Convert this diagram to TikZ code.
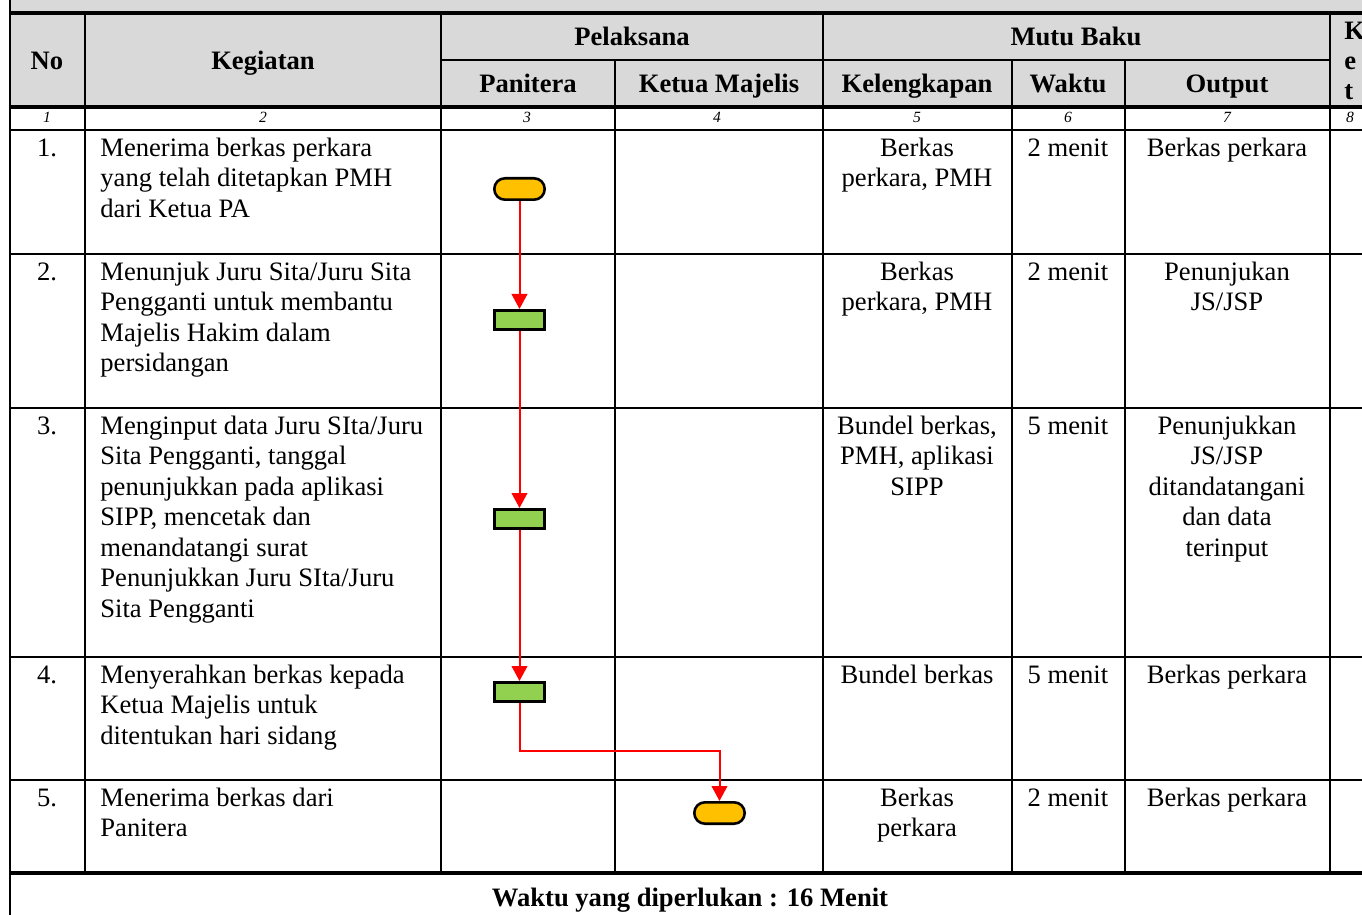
\documentclass[tikz,border=0pt]{standalone}
\usepackage{fontspec}
\setmainfont{Liberation Serif}
\usetikzlibrary{arrows.meta}

\definecolor{hdrgray}{HTML}{D9D9D9}
\definecolor{termyellow}{HTML}{FFC000}
\definecolor{procgreen}{HTML}{92D050}
\newcommand\bodyfont{\fontsize{13.3}{15.25}\selectfont}
\newcommand\numfont{\fontsize{7.8}{9}\selectfont\itshape}

\begin{document}
\begin{tikzpicture}[x=0.5pt,y=-0.5pt,
   rule/.style={draw=black,line width=1.1pt},
   thickrule/.style={draw=black,line width=1.6pt},
   txt/.style={font=\bodyfont,inner sep=0pt},
   hdr/.style={font=\bodyfont\bfseries,inner sep=0pt,anchor=base},
   colnum/.style={font=\numfont,inner sep=0pt,anchor=base},
   keg/.style={txt,anchor=north west,align=left},
   mid/.style={txt,anchor=north,align=center},
   term/.style={rectangle,rounded corners=5.3pt,draw=black,line width=1.3pt,
      fill=termyellow,minimum width=25.2pt,minimum height=10.7pt,inner sep=0pt},
   proc/.style={rectangle,draw=black,line width=1.3pt,fill=procgreen,
      minimum width=25.2pt,minimum height=9.7pt,inner sep=0pt},
   flow/.style={draw=red,line width=1pt,-{Triangle[width=7.8pt,length=7.5pt]}}]
   \useasboundingbox (0,0) rectangle (1362,915);
   \clip (0,0) rectangle (1362,915);
   % header background
   \fill[hdrgray] (10,0) rectangle (1362,107);
   % horizontal rules; format: {y/from/to/style}
   \foreach \yy/\xa/\xb/\sty in {13/10/1362/thickrule,60/441/1330/rule,107/10/1362/thickrule,130/10/1362/rule,254/10/1362/rule,408/10/1362/rule,657/10/1362/rule,780/10/1362/rule,873/10/1362/thickrule}
      \draw[\sty] (\xa,\yy) -- (\xb,\yy);
   % vertical rules; format: {x/from/to}
   \foreach \xx/\ya/\yb in {10/0/915,85/13/873,441/13/873,615/60/873,823/13/873,1012/60/873,1125/60/873,1330/13/873}
      \draw[rule] (\xx,\ya) -- (\xx,\yb);
   % column heads
   \node[hdr] (hno) at (47,70) {No};
   \node[hdr] (hkeg) at (263,70) {Kegiatan};
   \node[hdr] (hpel) at (632,46) {Pelaksana};
   \node[hdr] (hmutu) at (1076,46) {Mutu Baku};
   \foreach \nm/\xx/\lbl in {pan/528/Panitera,ket/719/Ketua Majelis,kel/917/Kelengkapan,wkt/1068/Waktu,out/1227/Output}
      \node[hdr] (h\nm) at (\xx,93) {\lbl};
   \foreach \ch/\yy in {K/40,e/70,t/100}
      \node[hdr,anchor=base west] (hket\ch) at (1344,\yy) {\ch};
   % column numbers
   \foreach \c/\xx in {1/47,2/263,3/527,4/717,5/917,6/1068,7/1227,8/1350}
      \node[colnum] (cn\c) at (\xx,123) {\c};
   % number and time per row; format: {row/top/minutes}
   \foreach \r/\top/\mnt in {1/130/2,2/254/2,3/408/5,4/657/5,5/780/2} {
      \node[mid] (no\r) at (47,\top+4.65) {\strut\r.};
      \node[mid] (wk\r) at (1068,\top+4.65) {\strut\mnt{} menit};
   }
   % kegiatan
   \node[keg] (keg1) at (100,134.65) {\strut Menerima berkas perkara\\yang telah ditetapkan PMH\\dari Ketua PA};
   \node[keg] (keg2) at (100,258.65) {\strut Menunjuk Juru Sita/Juru Sita\\Pengganti untuk membantu\\Majelis Hakim dalam\\persidangan};
   \node[keg] (keg3) at (100,412.65) {\strut Menginput data Juru SIta/Juru\\Sita Pengganti, tanggal\\penunjukkan pada aplikasi\\SIPP, mencetak dan\\menandatangi surat\\Penunjukkan Juru SIta/Juru\\Sita Pengganti};
   \node[keg] (keg4) at (100,661.65) {\strut Menyerahkan berkas kepada\\Ketua Majelis untuk\\ditentukan hari sidang};
   \node[keg] (keg5) at (100,784.65) {\strut Menerima berkas dari\\Panitera};
   % kelengkapan
   \node[mid] (kel1) at (917,134.65) {\strut Berkas\\perkara, PMH};
   \node[mid] (kel2) at (917,258.65) {\strut Berkas\\perkara, PMH};
   \node[mid] (kel3) at (917,412.65) {\strut Bundel berkas,\\PMH, aplikasi\\SIPP};
   \node[mid] (kel4) at (917,661.65) {\strut Bundel berkas};
   \node[mid] (kel5) at (917,784.65) {\strut Berkas\\perkara};
   % output
   \node[mid] (out1) at (1227,134.65) {\strut Berkas perkara};
   \node[mid] (out2) at (1227,258.65) {\strut Penunjukan\\JS/JSP};
   \node[mid] (out3) at (1227,412.65) {\strut Penunjukkan\\JS/JSP\\ditandatangani\\dan data\\terinput};
   \node[mid] (out4) at (1227,661.65) {\strut Berkas perkara};
   \node[mid] (out5) at (1227,784.65) {\strut Berkas perkara};
   % flow symbols
   \node[term] (start) at (519.5,189) {};
   \node[proc] (p1) at (519.5,320) {};
   \node[proc] (p2) at (519.5,519) {};
   \node[proc] (p3) at (519.5,692) {};
   \node[term] (fin) at (719.5,813) {};
   \coordinate (turn) at (719.5,751);
   \draw[flow] (start) -- (p1);
   \draw[flow] (p1) -- (p2);
   \draw[flow] (p2) -- (p3);
   \draw[flow] (p3.south) |- (turn) -- (fin.north);
   % total
   \node[hdr] (total) at (690,906) {Waktu yang diperlukan : 16 Menit};
\end{tikzpicture}
\end{document}
